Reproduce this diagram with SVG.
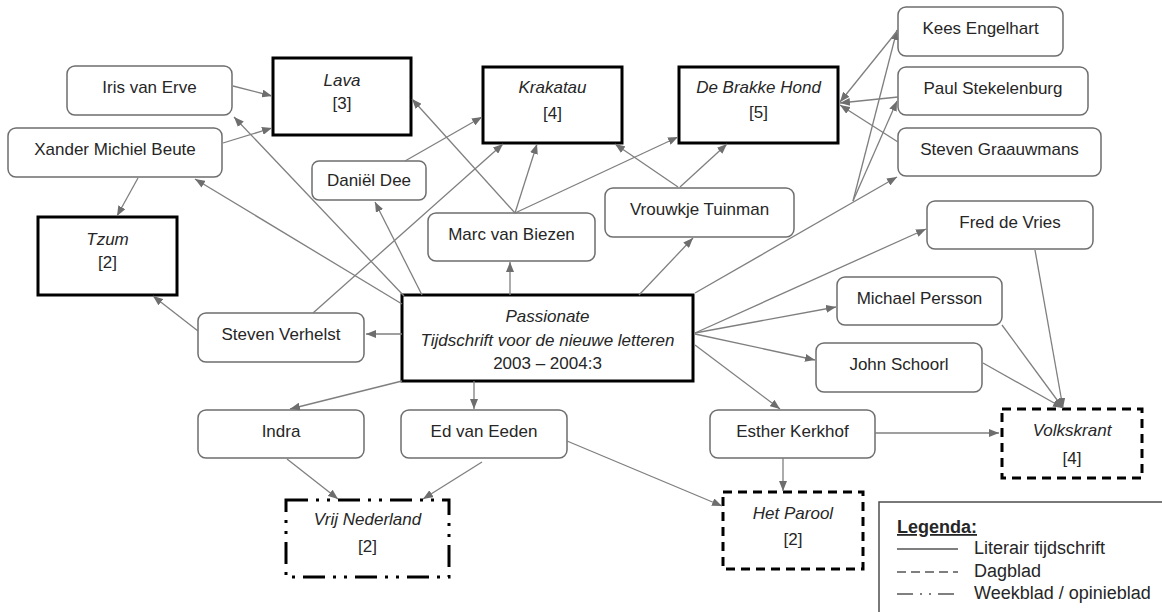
<svg xmlns="http://www.w3.org/2000/svg" width="1162" height="612" viewBox="0 0 1162 612">
<style>
text{font-family:"Liberation Sans",Arial,sans-serif;font-size:17px;fill:#262626;text-anchor:middle}
.it{font-style:italic}
.p{fill:#fff;stroke:#6e6e6e;stroke-width:1.5}
.j{fill:#fff;stroke:#000;stroke-width:3}
.d{stroke-dasharray:9 6}
.dd{stroke-dasharray:22 8 3 8 3 8}
.c line{stroke:#7f7f7f;stroke-width:1.3;marker-end:url(#ah)}
.lg{stroke:#7f7f7f;stroke-width:2}
.lt{text-anchor:start;font-size:18px}
</style>
<defs>
<marker id="ah" viewBox="0 0 10 8" refX="10" refY="4" markerWidth="10" markerHeight="8" markerUnits="userSpaceOnUse" orient="auto"><path d="M0,0 L10,4 L0,8 z" fill="#6e6e6e"/></marker>
</defs>
<rect width="1162" height="612" fill="#fff"/>

<g id="n-iris"><rect class="p" x="67" y="66" width="165" height="49" rx="8"/><text x="149.5" y="93">Iris van Erve</text></g>
<g id="n-xander"><rect class="p" x="8" y="128" width="214" height="49" rx="8"/><text x="115" y="155">Xander Michiel Beute</text></g>
<g id="n-tzum"><rect class="j" x="38" y="217" width="139" height="78"/><text class="it" x="107.5" y="245">Tzum</text><text x="107.5" y="268">[2]</text></g>
<g id="n-lava"><rect class="j" x="273" y="58" width="138" height="77"/><text class="it" x="342" y="86">Lava</text><text x="342" y="109">[3]</text></g>
<g id="n-krakatau"><rect class="j" x="483" y="67" width="139" height="76"/><text class="it" x="552.5" y="93">Krakatau</text><text x="552.5" y="119">[4]</text></g>
<g id="n-dbh"><rect class="j" x="679" y="67" width="159" height="76"/><text class="it" x="758.5" y="93">De Brakke Hond</text><text x="758.5" y="118">[5]</text></g>
<g id="n-daniel"><rect class="p" x="312" y="161" width="114" height="39" rx="7"/><text x="369" y="186">Daniël Dee</text></g>
<g id="n-marc"><rect class="p" x="428" y="213" width="167" height="48" rx="8"/><text x="511.5" y="240">Marc van Biezen</text></g>
<g id="n-vrouwkje"><rect class="p" x="605" y="188" width="189" height="49" rx="8"/><text x="699.5" y="215">Vrouwkje Tuinman</text></g>
<g id="n-kees"><rect class="p" x="898" y="7" width="165" height="49" rx="8"/><text x="980.5" y="34">Kees Engelhart</text></g>
<g id="n-paul"><rect class="p" x="898" y="67" width="190" height="48" rx="8"/><text x="993" y="94">Paul Stekelenburg</text></g>
<g id="n-graauwmans"><rect class="p" x="898" y="128" width="203" height="48" rx="8"/><text x="999.5" y="155">Steven Graauwmans</text></g>
<g id="n-fred"><rect class="p" x="927" y="201" width="166" height="48" rx="8"/><text x="1010" y="228">Fred de Vries</text></g>
<g id="n-michael"><rect class="p" x="837" y="277" width="165" height="48" rx="8"/><text x="919.5" y="304">Michael Persson</text></g>
<g id="n-john"><rect class="p" x="816" y="343" width="166" height="49" rx="8"/><text x="899" y="370">John Schoorl</text></g>
<g id="n-passionate"><rect class="j" x="402" y="295" width="291" height="86"/><text class="it" x="547.5" y="322">Passionate</text><text class="it" x="547.5" y="346">Tijdschrift voor de nieuwe letteren</text><text x="547.5" y="369">2003 – 2004:3</text></g>
<g id="n-verhelst"><rect class="p" x="198" y="313" width="166" height="49" rx="8"/><text x="281" y="340">Steven Verhelst</text></g>
<g id="n-indra"><rect class="p" x="198" y="410" width="166" height="48" rx="8"/><text x="281" y="437">Indra</text></g>
<g id="n-ed"><rect class="p" x="401" y="410" width="166" height="48" rx="8"/><text x="484" y="437">Ed van Eeden</text></g>
<g id="n-esther"><rect class="p" x="710" y="410" width="165" height="48" rx="8"/><text x="792.5" y="437">Esther Kerkhof</text></g>
<g id="n-volkskrant"><rect class="j d" x="1002" y="409" width="140" height="69"/><text class="it" x="1072" y="436">Volkskrant</text><text x="1072" y="464">[4]</text></g>
<g id="n-parool"><rect class="j d" x="723" y="492" width="140" height="77"/><text class="it" x="793" y="519">Het Parool</text><text x="793" y="545">[2]</text></g>
<g id="n-vrij"><rect class="j dd" x="286" y="500" width="163" height="77"/><text class="it" x="367.5" y="525">Vrij Nederland</text><text x="367.5" y="552">[2]</text></g>

<g id="connectors" class="c">
<line x1="233" y1="86" x2="272" y2="96"/>
<line x1="223" y1="143" x2="272" y2="128"/>
<line x1="138" y1="178" x2="117" y2="216"/>
<line x1="404" y1="296" x2="234" y2="117"/>
<line x1="402" y1="304" x2="195" y2="179"/>
<line x1="198" y1="331" x2="153" y2="296"/>
<line x1="313" y1="313" x2="503" y2="144"/>
<line x1="402" y1="334" x2="366" y2="334"/>
<line x1="422" y1="295" x2="375" y2="202"/>
<line x1="405" y1="161" x2="482" y2="117"/>
<line x1="515" y1="213" x2="412" y2="99"/>
<line x1="515" y1="213" x2="537" y2="144"/>
<line x1="515" y1="213" x2="678" y2="137"/>
<line x1="510" y1="295" x2="510" y2="262"/>
<line x1="678" y1="187" x2="615" y2="144"/>
<line x1="680" y1="187" x2="727" y2="144"/>
<line x1="639" y1="295" x2="693" y2="238"/>
<line x1="695" y1="293" x2="897" y2="177"/>
<line x1="853" y1="201" x2="897" y2="30"/>
<line x1="853" y1="201" x2="897" y2="101"/>
<line x1="898" y1="30" x2="840" y2="102"/>
<line x1="898" y1="97" x2="840" y2="103"/>
<line x1="898" y1="142" x2="840" y2="105"/>
<line x1="695" y1="333" x2="926" y2="229"/>
<line x1="695" y1="333" x2="836" y2="307"/>
<line x1="695" y1="334" x2="815" y2="360"/>
<line x1="695" y1="345" x2="780" y2="409"/>
<line x1="1035" y1="250" x2="1063" y2="408"/>
<line x1="1002" y1="325" x2="1063" y2="408"/>
<line x1="983" y1="363" x2="1063" y2="408"/>
<line x1="875" y1="433" x2="999" y2="433"/>
<line x1="783" y1="458" x2="783" y2="491"/>
<line x1="567" y1="441" x2="722" y2="506"/>
<line x1="402" y1="381" x2="290" y2="409"/>
<line x1="474" y1="381" x2="474" y2="409"/>
<line x1="287" y1="459" x2="338" y2="499"/>
<line x1="482" y1="462" x2="423" y2="499"/>
</g>

<g id="legend">
<rect x="879" y="502" width="300" height="130" fill="#fff" stroke="#4d4d4d" stroke-width="1.5"/>
<text class="lt" x="897" y="533" font-weight="bold" text-decoration="underline">Legenda:</text>
<line class="lg" x1="897" y1="549" x2="958" y2="549"/>
<text class="lt" x="974" y="554">Literair tijdschrift</text>
<line class="lg" x1="897" y1="572" x2="958" y2="572" stroke-dasharray="9 5"/>
<text class="lt" x="974" y="577">Dagblad</text>
<line class="lg" x1="897" y1="594" x2="958" y2="594" stroke-dasharray="16 7 2 7 2 7"/>
<text class="lt" x="974" y="599">Weekblad / opinieblad</text>
</g>
</svg>
